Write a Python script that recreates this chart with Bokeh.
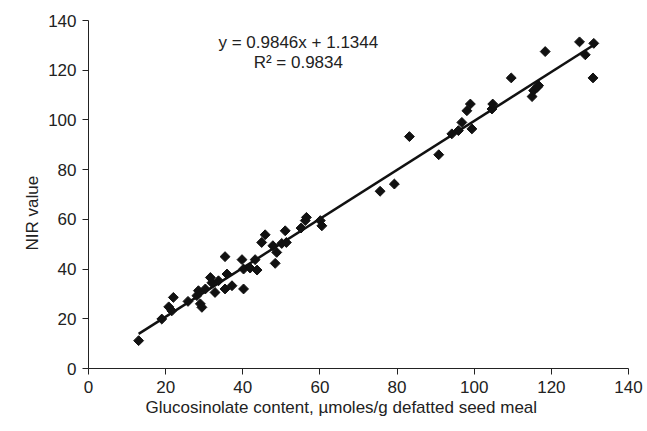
import math
from bokeh.plotting import figure
from bokeh.models import Range1d, Label, Title
from bokeh.embed import file_html
from bokeh.resources import INLINE

# Data
glucosinolate = [13.0, 19.0, 20.8, 21.6, 22.0, 25.8, 28.1, 28.5, 29.0, 29.4,
                 30.3, 31.6, 32.0, 32.8, 33.7, 35.4, 35.9, 35.4, 37.2, 39.8,
                 40.2, 40.2, 41.9, 43.2, 43.7, 44.9, 45.8, 47.8, 48.4, 48.8,
                 50.1, 51.0, 51.3, 55.1, 56.2, 56.5, 60.1, 60.5, 75.6, 79.3,
                 83.2, 90.8, 94.2, 95.9, 96.8, 98.1, 99.0, 99.4, 104.6, 104.8,
                 109.6, 115.0, 115.4, 116.3, 116.7, 118.4, 127.3, 128.8, 131.0, 130.8]
nir_value = [11.2, 19.9, 24.8, 23.2, 28.6, 27.0, 29.3, 31.3, 26.0, 24.6,
             32.0, 36.6, 34.5, 30.6, 35.3, 45.0, 38.0, 32.0, 33.3, 43.8,
             40.0, 32.0, 40.4, 43.8, 39.6, 50.7, 53.8, 49.4, 42.3, 46.7,
             50.3, 55.4, 50.7, 56.5, 59.5, 60.8, 59.5, 57.4, 71.3, 74.2,
             93.3, 86.0, 94.4, 95.7, 99.0, 103.7, 106.4, 96.4, 104.4, 106.4,
             116.9, 109.4, 111.8, 113.1, 113.8, 127.5, 131.4, 126.2, 130.8, 116.9]
slope = 0.9846
intercept = 1.1344
r_squared = 0.9834
ticks = [0, 20, 40, 60, 80, 100, 120, 140]
x_title = "Glucosinolate content, µmoles/g defatted seed meal"
y_title = "NIR value"

FONT = "Liberation Sans"
TXT = "#222222"

p = figure(width=647, height=431, output_backend="svg", toolbar_location=None,
           x_range=Range1d(0, 140), y_range=Range1d(0, 140),
           min_border_left=88, min_border_right=19, min_border_top=20,
           min_border_bottom=63)
p.outline_line_color = None
p.xgrid.visible = False
p.ygrid.visible = False
p.background_fill_color = "white"
p.border_fill_color = "white"

for ax in (p.xaxis[0], p.yaxis[0]):
    ax.ticker = ticks
    ax.minor_tick_line_color = None
    ax.major_tick_in = 0
    ax.major_tick_out = 6
    ax.major_label_standoff = 6
    ax.major_label_text_font = FONT
    ax.major_label_text_font_size = "17px"
    ax.major_label_text_color = TXT
    ax.axis_line_color = TXT
    ax.major_tick_line_color = TXT

# axis titles (offset from the frame centre as in the reference)
p.add_layout(Title(text=x_title, align="left", offset=57, standoff=0,
                   text_font=FONT, text_font_size="17px",
                   text_font_style="normal", text_color=TXT), "below")
p.add_layout(Title(text=y_title, align="left", offset=118, standoff=8,
                   text_font=FONT, text_font_size="17px",
                   text_font_style="normal", text_color=TXT), "left")

# trend line across the data range
xmin, xmax = min(glucosinolate), max(glucosinolate)
p.line([xmin, xmax], [slope * xmin + intercept, slope * xmax + intercept],
       line_color="#111111", line_width=2.5)

p.scatter(glucosinolate, nir_value, marker="square", size=7, angle=math.pi / 4,
          fill_color="#111111", line_color="#111111")

eq = f"y = {slope}x + {intercept}"
r2 = f"R² = {r_squared}"
p.add_layout(Label(x=54.4, y=131.2, text=eq, text_align="center",
                   text_baseline="middle", text_font=FONT,
                   text_font_size="17px", text_color=TXT))
p.add_layout(Label(x=54.4, y=123.1, text=r2, text_align="center",
                   text_baseline="middle", text_font=FONT,
                   text_font_size="17px", text_color=TXT))

open("out.html", "w").write(file_html(p, INLINE))
